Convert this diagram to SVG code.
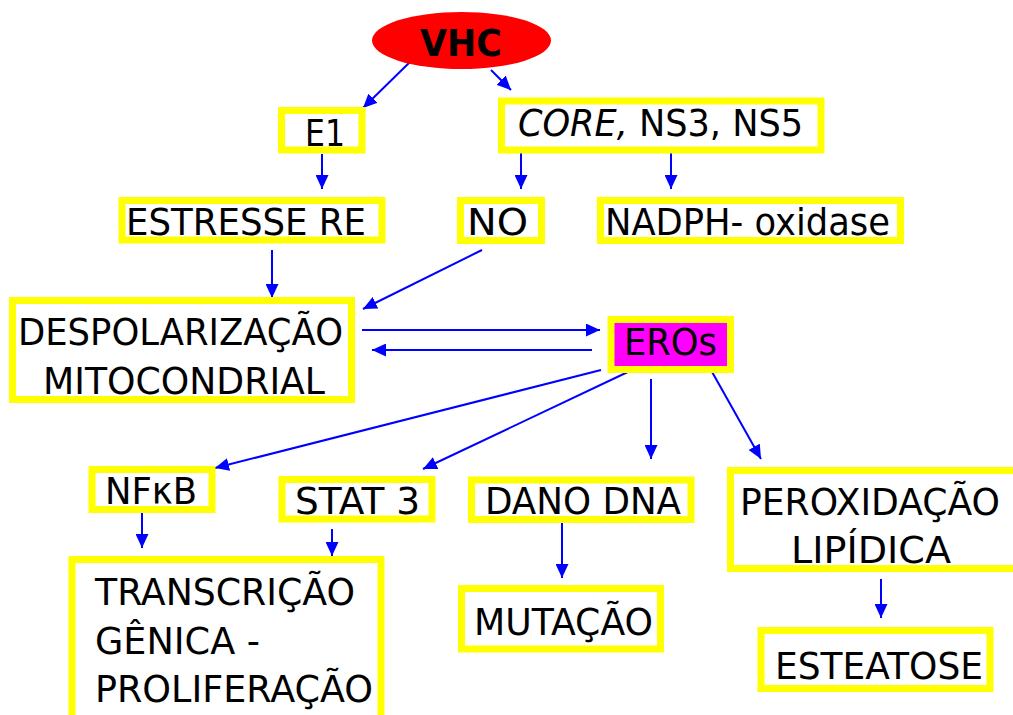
<svg xmlns="http://www.w3.org/2000/svg" width="1013" height="715" viewBox="0 0 1013 715">
<style>
.box{fill:#ffffff;stroke:#ffff00;stroke-width:7}
.t{font-family:"DejaVu Sans","Liberation Sans",sans-serif;font-size:38px;fill:#000000}
.c{stroke:#0000ff;stroke-width:2;fill:none}
</style>
<defs>
<marker id="ah" markerUnits="userSpaceOnUse" markerWidth="15" markerHeight="13" refX="14" refY="6.5" orient="auto">
<path d="M0,0 L14,6.5 L0,13 z" fill="#0000ff"/>
</marker>
</defs>
<rect x="0" y="0" width="1013" height="715" fill="#ffffff"/>
<g id="connectors">
<line class="c" x1="412" y1="60" x2="363" y2="108" marker-end="url(#ah)"/>
<line class="c" x1="491" y1="70" x2="511" y2="90" marker-end="url(#ah)"/>
<line class="c" x1="322" y1="154" x2="322" y2="189" marker-end="url(#ah)"/>
<line class="c" x1="521" y1="153" x2="521" y2="189" marker-end="url(#ah)"/>
<line class="c" x1="671" y1="153" x2="671" y2="189" marker-end="url(#ah)"/>
<line class="c" x1="272" y1="250" x2="272" y2="298" marker-end="url(#ah)"/>
<line class="c" x1="482" y1="250" x2="363" y2="309" marker-end="url(#ah)"/>
<line class="c" x1="362" y1="330" x2="600" y2="330" marker-end="url(#ah)"/>
<line class="c" x1="592" y1="350" x2="372" y2="350" marker-end="url(#ah)"/>
<line class="c" x1="601" y1="370" x2="215" y2="468" marker-end="url(#ah)"/>
<line class="c" x1="632" y1="370" x2="423" y2="469" marker-end="url(#ah)"/>
<line class="c" x1="651" y1="379" x2="651" y2="459" marker-end="url(#ah)"/>
<line class="c" x1="711" y1="370" x2="761" y2="459" marker-end="url(#ah)"/>
<line class="c" x1="142" y1="513" x2="142" y2="548" marker-end="url(#ah)"/>
<line class="c" x1="332" y1="529" x2="332" y2="556" marker-end="url(#ah)"/>
<line class="c" x1="562" y1="523" x2="562" y2="578" marker-end="url(#ah)"/>
<line class="c" x1="881" y1="579" x2="881" y2="618" marker-end="url(#ah)"/>
</g>
<g id="vhc">
<ellipse cx="461.5" cy="40.5" rx="89.5" ry="28.5" fill="#ff0000"/>
<text class="t" x="420" y="56" font-size="40" font-weight="bold" textLength="82" lengthAdjust="spacingAndGlyphs">VHC</text>
</g>
<g id="e1">
<rect class="box" x="281.5" y="110.5" width="80.5" height="39.5"/>
<text class="t" x="305" y="146" textLength="40" lengthAdjust="spacingAndGlyphs">E1</text>
</g>
<g id="core">
<rect class="box" x="501.5" y="101" width="319.5" height="49"/>
<text class="t" x="518" y="136" textLength="285" lengthAdjust="spacingAndGlyphs"><tspan font-style="italic">CORE,</tspan> NS3, NS5</text>
</g>
<g id="estresse">
<rect class="box" x="122" y="200.5" width="260" height="39.5"/>
<text class="t" x="126" y="235" textLength="240" lengthAdjust="spacingAndGlyphs">ESTRESSE RE</text>
</g>
<g id="no">
<rect class="box" x="460.5" y="200.5" width="81" height="40"/>
<text class="t" x="467" y="235" textLength="61" lengthAdjust="spacingAndGlyphs">NO</text>
</g>
<g id="nadph">
<rect class="box" x="600.5" y="200.5" width="300" height="40"/>
<text class="t" x="605" y="235" textLength="285" lengthAdjust="spacingAndGlyphs">NADPH- oxidase</text>
</g>
<g id="despol">
<rect class="box" x="12.5" y="300.5" width="339" height="99"/>
<text class="t" x="18" y="345" textLength="325" lengthAdjust="spacingAndGlyphs">DESPOLARIZAÇÃO</text>
<text class="t" x="43" y="394" textLength="282" lengthAdjust="spacingAndGlyphs">MITOCONDRIAL</text>
</g>
<g id="eros">
<rect x="611" y="319.5" width="119.5" height="50" fill="#ff00ff" stroke="#ffff00" stroke-width="7"/>
<text class="t" x="624" y="355" textLength="93" lengthAdjust="spacingAndGlyphs">EROs</text>
</g>
<g id="nfkb">
<rect class="box" x="92" y="469.5" width="120" height="40"/>
<text class="t" x="105" y="504" textLength="92" lengthAdjust="spacingAndGlyphs">NFκB</text>
</g>
<g id="stat3">
<rect class="box" x="282" y="479.5" width="150" height="39.5"/>
<text class="t" x="295" y="514" textLength="125" lengthAdjust="spacingAndGlyphs">STAT 3</text>
</g>
<g id="dano">
<rect class="box" x="471.5" y="480" width="219.5" height="39.5"/>
<text class="t" x="485" y="514" textLength="196" lengthAdjust="spacingAndGlyphs">DANO DNA</text>
</g>
<g id="perox">
<rect class="box" x="730.5" y="470.5" width="292" height="98"/>
<text class="t" x="740" y="515" textLength="260" lengthAdjust="spacingAndGlyphs">PEROXIDAÇÃO</text>
<text class="t" x="791" y="563" textLength="160" lengthAdjust="spacingAndGlyphs">LIPÍDICA</text>
</g>
<g id="transcricao">
<rect class="box" x="72" y="559.5" width="309" height="170"/>
<text class="t" x="95" y="605" textLength="260" lengthAdjust="spacingAndGlyphs">TRANSCRIÇÃO</text>
<text class="t" x="95" y="654" textLength="165" lengthAdjust="spacingAndGlyphs">GÊNICA -</text>
<text class="t" x="95" y="702" textLength="278" lengthAdjust="spacingAndGlyphs">PROLIFERAÇÃO</text>
</g>
<g id="mutacao">
<rect class="box" x="461.5" y="588.5" width="199" height="60.5"/>
<text class="t" x="474" y="635" textLength="179" lengthAdjust="spacingAndGlyphs">MUTAÇÃO</text>
</g>
<g id="esteatose">
<rect class="box" x="761" y="630.5" width="229" height="58"/>
<text class="t" x="775" y="679" textLength="208" lengthAdjust="spacingAndGlyphs">ESTEATOSE</text>
</g>
</svg>
